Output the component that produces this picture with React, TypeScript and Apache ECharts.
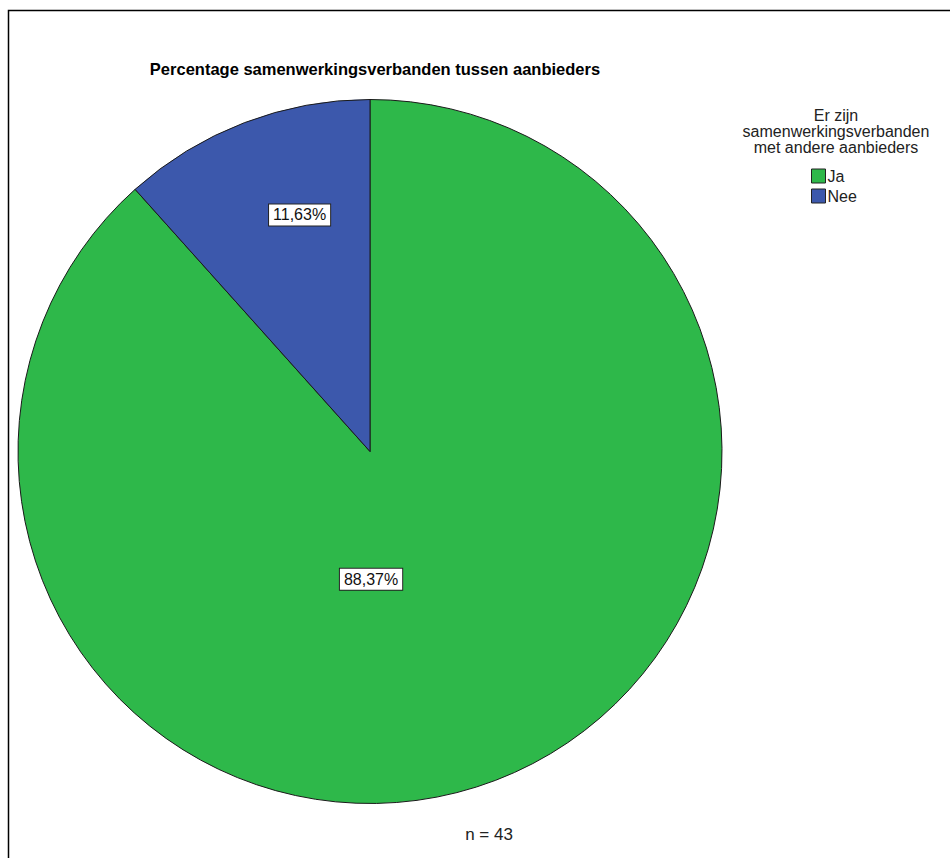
import React, { useEffect, useRef } from "react";
import * as echarts from "echarts";

const categories = ["Ja", "Nee"];
const counts = [38, 5];
const percentLabels = ["88,37%", "11,63%"];
const colors = ["#2EB84A", "#3C58AC"];
const titleText = "Percentage samenwerkingsverbanden tussen aanbieders";
const legendTitle = "Er zijn\nsamenwerkingsverbanden\nmet andere aanbieders";
const footnote = "n = 43";

export default function App() {
  const ref = useRef<HTMLDivElement>(null);
  useEffect(() => {
    document.body.style.margin = "0";
    if (!ref.current) return;
    const chart = echarts.init(ref.current, null, { renderer: "svg" });
    const font = "'Liberation Sans', Arial, sans-serif";
    const cx = 370;
    const cy = 451.5;
    const r = 352;
    const labelRel = [
      [0.003, 0.363],
      [-0.2, -0.672],
    ];
    chart.setOption({
      animation: false,
      backgroundColor: "#ffffff",
      title: [
        {
          text: titleText,
          left: 370,
          top: 55,
          textAlign: "center",
          textStyle: { fontFamily: font, fontSize: 16.5, fontWeight: "bold", color: "#000" },
        },
        {
          text: legendTitle,
          left: 831,
          top: 102,
          textAlign: "center",
          textStyle: { fontFamily: font, fontSize: 16, fontWeight: "normal", color: "#222", lineHeight: 16 },
        },
        {
          text: footnote,
          left: 484,
          top: 821,
          textAlign: "center",
          textStyle: { fontFamily: font, fontSize: 17, fontWeight: "normal", color: "#222" },
        },
      ],
      legend: {
        orient: "vertical",
        left: 806,
        top: 163,
        itemWidth: 14,
        itemHeight: 14,
        itemGap: 4,
        icon: "rect",
        data: categories,
        textStyle: { fontFamily: font, fontSize: 16, color: "#222", padding: [0, 0, 0, -3] },
        itemStyle: { borderColor: "#222", borderWidth: 1 },
      },
      graphic: [
        {
          type: "rect",
          shape: { x: 8.5, y: 10.5, width: 1200, height: 1200 },
          style: { fill: "none", stroke: "#000", lineWidth: 1.5 },
          silent: true,
        },
      ],
      series: [
        {
          type: "pie",
          center: [cx, cy],
          radius: r,
          startAngle: 90,
          clockwise: true,
          avoidLabelOverlap: false,
          itemStyle: { borderColor: "#1a1a1a", borderWidth: 1 },
          emphasis: { disabled: true },
          label: {
            show: true,
            position: "inside",
            formatter: (p: any) => percentLabels[p.dataIndex],
            fontFamily: font,
            fontSize: 16,
            color: "#111",
            backgroundColor: "#ffffff",
            borderColor: "#222",
            borderWidth: 1,
            padding: [3, 4, 2, 4],
          },
          labelLine: { show: false },
          labelLayout: (params: any) => {
            const rel = labelRel[params.dataIndex];
            return { x: cx + rel[0] * r, y: cy + rel[1] * r, align: "center", verticalAlign: "middle" };
          },
          data: categories.map((c, i) => ({
            name: c,
            value: counts[i],
            itemStyle: { color: colors[i] },
          })),
        },
      ],
    });
    return () => chart.dispose();
  }, []);
  return <div ref={ref} style={{ width: 950, height: 858 }} />;
}
